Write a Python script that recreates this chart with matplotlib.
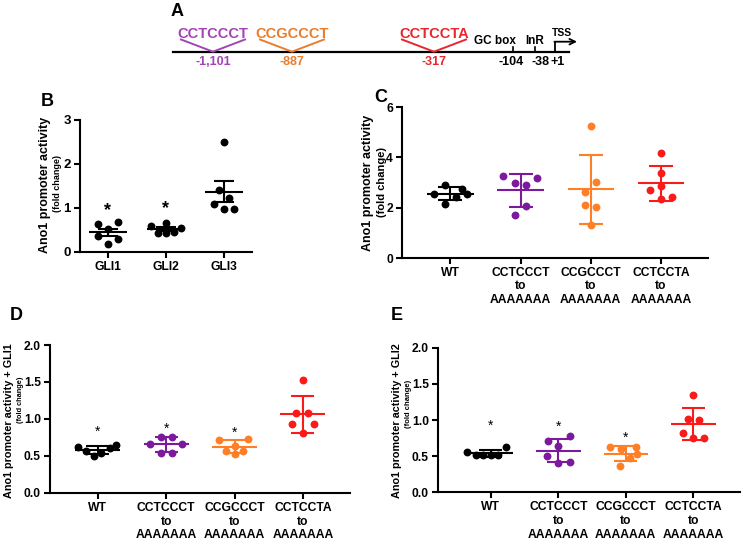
import numpy as np
import matplotlib.pyplot as plt

plt.rcParams['font.family'] = ['Liberation Sans', 'DejaVu Sans']
plt.rcParams['font.weight'] = 'bold'

# ---- panel A: promoter schematic
motifs = ['CCTCCCT', 'CCGCCCT', 'CCTCCTA']
motif_sites = ['-1,101', '-887', '-317']
motif_colors = ['#a444b4', '#e87d2c', '#e8262e']
box_names = ['GC box', 'InR']
box_sites = ['-104', '-38']
tss_site = '+1'

# ---- panel B: GLI co-transfection
b_groups = ['GLI1', 'GLI2', 'GLI3']
b_vals = [[0.64, 0.69, 0.53, 0.36, 0.29, 0.19],
          [0.60, 0.65, 0.54, 0.44, 0.44, 0.45],
          [2.51, 1.42, 1.22, 1.09, 0.98, 0.98]]
b_jit = [[-0.17, 0.17, 0, -0.17, 0.17, 0],
         [-0.25, 0, 0.25, -0.13, 0, 0.13],
         [0, -0.09, 0.09, -0.17, 0, 0.17]]
b_stars = [0.93, 0.98, None]

# ---- panels C-E: mutated binding sites
mut_groups = ['WT', 'CCTCCCT\nto\nAAAAAAA', 'CCGCCCT\nto\nAAAAAAA', 'CCTCCTA\nto\nAAAAAAA']
mut_colors = ['black', '#7b1a9c', '#ff7f27', '#fa1a1a']

c_vals = [[2.53, 2.89, 2.15, 2.41, 2.75, 2.54],
          [3.26, 2.99, 2.89, 3.19, 2.07, 1.70],
          [5.24, 3.01, 2.62, 2.12, 2.04, 1.31],
          [4.18, 3.36, 2.69, 2.86, 2.34, 2.41]]
c_jit = [[-0.24, -0.08, -0.08, 0.08, 0.17, 0.24],
         [-0.25, -0.08, 0.08, 0.24, 0.08, -0.08],
         [0, 0.08, -0.08, -0.08, 0.08, 0],
         [0, 0, -0.16, 0, 0, 0.16]]

d_vals = [[0.62, 0.56, 0.50, 0.54, 0.61, 0.645],
          [0.66, 0.76, 0.76, 0.66, 0.54, 0.54],
          [0.72, 0.73, 0.56, 0.53, 0.56, 0.63],
          [1.52, 1.08, 1.08, 0.935, 0.93, 0.81]]
d_jit = [[-0.29, -0.17, -0.05, 0.05, 0.18, 0.27],
         [-0.23, -0.08, 0.08, 0.23, -0.08, 0.08],
         [-0.22, 0.2, -0.12, 0, 0.12, 0],
         [0, -0.1, 0.07, -0.16, 0.16, 0]]
d_stars = [0.83, 0.86, 0.81, None]

e_vals = [[0.56, 0.51, 0.51, 0.51, 0.52, 0.62],
          [0.71, 0.78, 0.64, 0.50, 0.40, 0.42],
          [0.63, 0.60, 0.62, 0.53, 0.47, 0.36],
          [1.34, 1.01, 1.00, 0.82, 0.75, 0.75]]
e_jit = [[-0.35, -0.22, -0.11, 0, 0.11, 0.23],
         [-0.15, 0.17, 0, -0.16, 0, 0.17],
         [-0.24, -0.07, 0.15, 0.17, 0.06, -0.08],
         [0, -0.08, 0.08, -0.15, 0, 0.16]]
e_stars = [0.92, 0.90, 0.76, None]


def dot_plot(ax, vals, jit, colors, names, stars, sem=False, star_size=10,
             star_weight='normal', spacing=1.15):
    # scatter of replicates with mean and SD (or SEM) bars, GraphPad style
    for i, v in enumerate(vals):
        v = np.asarray(v)
        c = colors[i]
        m = v.mean()
        e = v.std(ddof=1)
        if sem:
            e = e / np.sqrt(len(v))
        ax.scatter(i + np.asarray(jit[i]), v, s=32, color=c, lw=0, zorder=3)
        ax.hlines(m, i - 0.33, i + 0.33, color=c, lw=1.5, zorder=2)
        ax.vlines(i, m - e, m + e, color=c, lw=1.5, zorder=2)
        ax.hlines([m - e, m + e], i - 0.17, i + 0.17, color=c, lw=1.5, zorder=2)
        if stars[i] is not None:
            ax.text(i, stars[i], '*', ha='center', va='center', fontsize=star_size,
                    fontweight=star_weight)
    ax.set_xticks(range(len(names)), names, linespacing=spacing)
    for s in ['top', 'right']:
        ax.spines[s].set_visible(False)
    for s in ['left', 'bottom']:
        ax.spines[s].set_linewidth(1.5)
    ax.tick_params(width=1.5, length=4, labelsize=8.7, pad=2.5)


fig = plt.figure(figsize=(7.42, 5.40), dpi=100)

# overlay in pixel coordinates for the schematic and the labels
ov = fig.add_axes([0, 0, 1, 1])
ov.set_xlim(0, 742)
ov.set_ylim(540, 0)
ov.axis('off')

# ---- A
ov.plot([173, 569], [51.7, 51.7], color='black', lw=1.6)
for name, site, col, x in zip(motifs, motif_sites, motif_colors, [213, 292, 434]):
    ov.plot([x - 32, x, x + 32], [39.5, 51.7, 39.5], color=col, lw=1.4)
    ov.text(x, 38.5, name, color=col, ha='center', va='baseline', fontsize=10.5,
            fontweight='bold')
    ov.text(x, 62, site, color=col, ha='center', va='center', fontsize=9,
            fontweight='bold')
for name, site, x, xl in zip(box_names, box_sites, [513, 535], [511, 540]):
    ov.plot([x, x], [46.5, 51.7], color='black', lw=1.2)
    ov.text(x - 18 if name == 'GC box' else x, 44, name, ha='center', va='baseline',
            fontsize=8.5, fontweight='bold')
    ov.text(xl, 62, site, ha='center', va='center', fontsize=9, fontweight='bold')
ov.plot([555, 555], [51.7, 41.7], color='black', lw=1.3)
ov.annotate('', xy=(577, 41.7), xytext=(554.4, 41.7),
            arrowprops=dict(arrowstyle='->', lw=1.3, color='black', shrinkA=0, shrinkB=0,
                            mutation_scale=10))
ov.text(562, 36, 'TSS', ha='center', va='baseline', fontsize=7.5, fontweight='bold')
ov.text(558, 62, tss_site, ha='center', va='center', fontsize=9, fontweight='bold')
ov.text(177, 11, 'A', ha='center', va='center', fontsize=13, fontweight='bold')

# panel letters
for lab, x, y in [('B', 47, 102), ('C', 381, 98), ('D', 16, 316), ('E', 397, 315)]:
    ov.text(x, y, lab, ha='center', va='center', fontsize=13, fontweight='bold')

# y labels
ylab = [(45, 185, 58, 184, 'Ano1 promoter activity', 9, 6.5),
        (368, 183, 382, 182, 'Ano1 promoter activity', 9, 8),
        (9, 421, 20.5, 400, 'Ano1 promoter activity + GLI1', 7.8, 5.3),
        (397, 421, 409, 404, 'Ano1 promoter activity + GLI2', 7.8, 5.5)]
for x1, y1, x2, y2, txt, fs1, fs2 in ylab:
    ov.text(x1, y1, txt, rotation=90, ha='center', va='center', fontsize=fs1,
            fontweight='bold')
    ov.text(x2, y2, '(fold change)', rotation=90, ha='center', va='center', fontsize=fs2,
            fontweight='bold')

# ---- B
axb = fig.add_axes([80 / 742, 1 - 252 / 540, 172 / 742, 132 / 540])
dot_plot(axb, b_vals, b_jit, ['black'] * 3, b_groups, b_stars, sem=True, star_size=13,
         star_weight='bold')
axb.set_xlim(-0.48, 2.48)
axb.set_ylim(0, 3)
axb.set_yticks([0, 1, 2, 3])
axb.tick_params(axis='y', labelsize=9.5)

# ---- C
axc = fig.add_axes([402 / 742, 1 - 258 / 540, 306 / 742, 151 / 540])
dot_plot(axc, c_vals, c_jit, mut_colors, mut_groups, [None] * 4)
axc.set_xlim(-0.69, 3.67)
axc.set_ylim(0, 6)
axc.set_yticks([0, 2, 4, 6])

# ---- D
axd = fig.add_axes([50 / 742, 1 - 492.7 / 540, 300 / 742, 147.7 / 540])
dot_plot(axd, d_vals, d_jit, mut_colors, mut_groups, d_stars, spacing=1.2)
axd.set_xlim(-0.7, 3.69)
axd.set_ylim(0, 2)
axd.set_yticks([0, 0.5, 1.0, 1.5, 2.0], ['0.0', '0.5', '1.0', '1.5', '2.0'])

# ---- E
axe = fig.add_axes([438 / 742, 1 - 492.3 / 540, 302 / 742, 144.6 / 540])
dot_plot(axe, e_vals, e_jit, mut_colors, mut_groups, e_stars, spacing=1.2)
axe.set_xlim(-0.78, 3.69)
axe.set_ylim(0, 2)
axe.set_yticks([0, 0.5, 1.0, 1.5, 2.0], ['0.0', '0.5', '1.0', '1.5', '2.0'])

fig.savefig('out.png', dpi=100)
